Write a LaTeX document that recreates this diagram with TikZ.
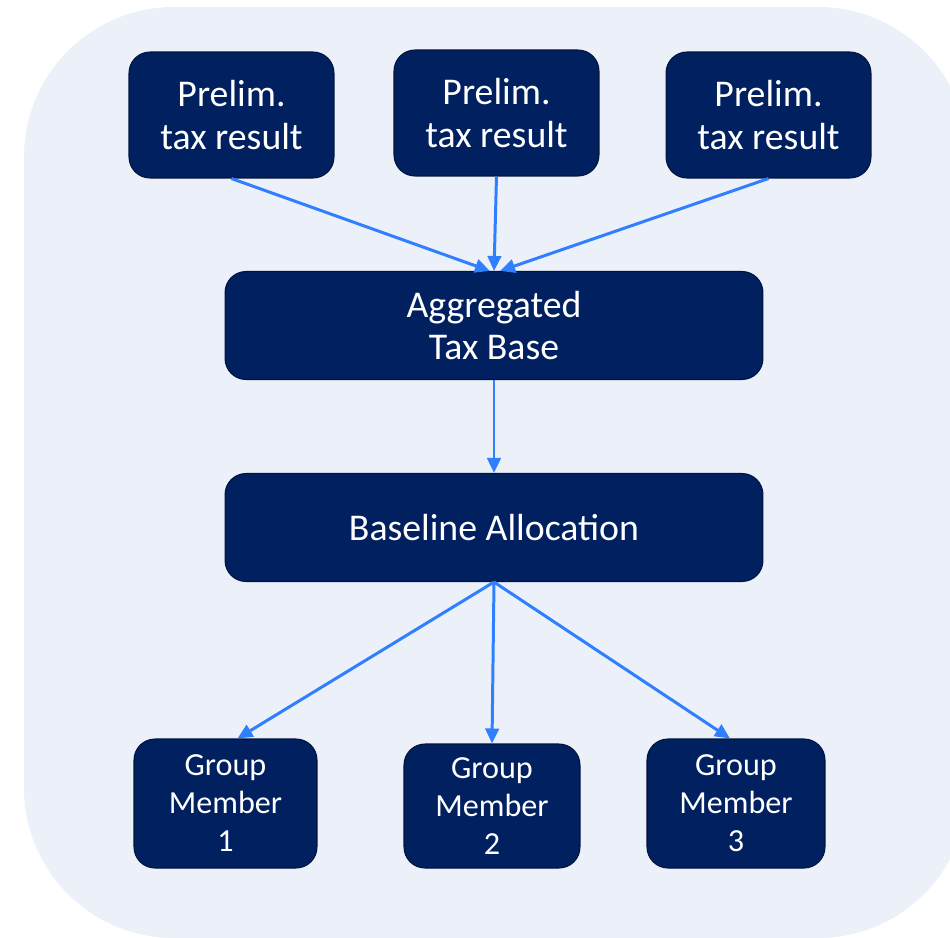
\documentclass[tikz,border=0pt]{standalone}
\usepackage{fontspec}
\setmainfont{Carlito}
\usetikzlibrary{arrows.meta,positioning}
\definecolor{panelbg}{HTML}{EBF0F9}
\definecolor{boxnavy}{HTML}{002060}
\definecolor{boxedge}{HTML}{00143D}
\definecolor{flowblue}{HTML}{2F7FFF}

\tikzset{
  taxbox/.style={draw=boxedge, line width=0.6pt, fill=boxnavy, rounded corners=0.42cm,
    text=white, align=center, font=\fontsize{21.5}{24}\selectfont},
  prelimbox/.style={taxbox, minimum width=4.1cm, minimum height=2.52cm},
  widebox/.style={taxbox, minimum width=10.76cm, minimum height=2.16cm},
  memberbox/.style={taxbox, font=\fontsize{18.3}{21.6}\selectfont, minimum height=2.58cm},
  flow/.style={draw=flowblue, line width=1.7pt, -{Triangle[length=0.3cm,width=0.27cm]}}
}

\begin{document}
\begin{tikzpicture}[x=0.02cm, y=-0.02cm]
\useasboundingbox (0,0) rectangle (950,937);
\clip (0,0) rectangle (950,937);
% background panel
\fill[panelbg, rounded corners=3cm] (24,7) rectangle (968,938);

% preliminary results
\node[prelimbox] (prelimA) at (231.5,115) {Prelim.\\tax result};
\node[prelimbox] (prelimB) at (496.5,113) {Prelim.\\tax result};
\node[prelimbox] (prelimC) at (768.5,115) {Prelim.\\tax result};

% aggregation and allocation
\node[widebox] (aggbase) at (494,325.5) {Aggregated\\Tax Base};
\node[widebox] (baseline) at (494,527.5) {Baseline Allocation};

% group members
\node[memberbox, minimum width=3.66cm] (memberA) at (225.5,803.5) {Group\\Member\\1};
\node[memberbox, minimum width=3.52cm, minimum height=2.48cm] (memberB) at (492,806) {Group\\Member\\2};
\node[memberbox, minimum width=3.56cm] (memberC) at (736,803.5) {Group\\Member\\3};

% connectors
\draw[flow] (prelimA.south) -- ([xshift=-0.08cm]aggbase.north);
\draw[flow] (prelimB.south) -- (aggbase.north);
\draw[flow] (prelimC.south) -- ([xshift=0.12cm]aggbase.north);
\draw[flow] (aggbase.south) -- (baseline.north);
\draw[flow] (baseline.south) -- ([xshift=0.24cm]memberA.north);
\draw[flow] (baseline.south) -- (memberB.north);
\draw[flow] (baseline.south) -- ([xshift=-0.12cm]memberC.north);
\end{tikzpicture}
\end{document}
